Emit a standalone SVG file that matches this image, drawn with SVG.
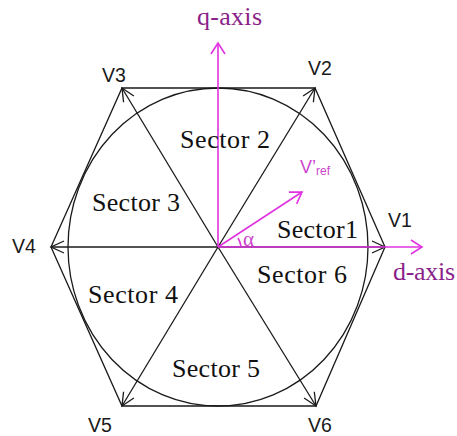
<svg xmlns="http://www.w3.org/2000/svg" width="457" height="436" viewBox="0 0 457 436">
<style>
.ln{stroke:#1a1a1a;stroke-width:1.3;fill:none}
.mg{stroke:#e033e0;stroke-width:1.6;fill:none}
.sec{font-family:"Liberation Serif","Times New Roman",serif;font-size:26px;fill:#111}
.ax{font-family:"Liberation Serif","Times New Roman",serif;font-size:26px;fill:#8a1f8a}
.vl{font-family:"Liberation Sans",Arial,sans-serif;font-size:19.5px;fill:#1a1a1a}
.vr{font-family:"Liberation Sans",Arial,sans-serif;fill:#cc44cc}
</style>
<defs>
<marker id="ah" markerUnits="userSpaceOnUse" markerWidth="30" markerHeight="30" refX="0" refY="0" viewBox="-15 -15 30 30" orient="auto" overflow="visible">
<path d="M-13,-6 L0,0 L-13,6" fill="none" stroke="#1a1a1a" stroke-width="1.3"/>
</marker>
<marker id="am" markerUnits="userSpaceOnUse" markerWidth="30" markerHeight="30" refX="0" refY="0" viewBox="-15 -15 30 30" orient="auto" overflow="visible">
<path d="M-11,-7 L0,0 L-11,7" fill="none" stroke="#e033e0" stroke-width="1.6"/>
</marker>
</defs>
<rect width="457" height="436" fill="#fff"/>
<g id="circle">
<ellipse cx="218" cy="247" rx="150" ry="159" class="ln"/>
</g>
<g id="connectors">
<path class="ln" d="M385,247 L315,88 L122,88 L51,247 L122,406 L316,406 Z"/>
<line class="ln" x1="218" y1="247" x2="315" y2="88" marker-end="url(#ah)"/>
<line class="ln" x1="218" y1="247" x2="122" y2="88" marker-end="url(#ah)"/>
<line class="ln" x1="218" y1="247" x2="51" y2="247" marker-end="url(#ah)"/>
<line class="ln" x1="218" y1="247" x2="122" y2="406" marker-end="url(#ah)"/>
<line class="ln" x1="218" y1="247" x2="316" y2="406" marker-end="url(#ah)"/>
<line class="ln" x1="218" y1="247" x2="385" y2="247" marker-end="url(#ah)"/>
<line class="mg" x1="218" y1="247" x2="218" y2="43" marker-end="url(#am)"/>
<line class="mg" x1="218" y1="247" x2="422" y2="247" marker-end="url(#am)"/>
<line class="mg" x1="218" y1="247" x2="302" y2="192" marker-end="url(#am)"/>
<path class="mg" stroke-width="1.2" d="M241,246 A 23 23 0 0 0 238,238"/>
</g>
<g id="V1"><text class="vl" x="388" y="227">V1</text></g>
<g id="V2"><text class="vl" x="308" y="75">V2</text></g>
<g id="V3"><text class="vl" x="102" y="82">V3</text></g>
<g id="V4"><text class="vl" x="12" y="253">V4</text></g>
<g id="V5"><text class="vl" x="88" y="432">V5</text></g>
<g id="V6"><text class="vl" x="308" y="432">V6</text></g>
<g id="sector1"><text class="sec" x="277" y="238" textLength="81">Sector1</text></g>
<g id="sector2"><text class="sec" x="180" y="148" textLength="90">Sector 2</text></g>
<g id="sector3"><text class="sec" x="92" y="211" textLength="88">Sector 3</text></g>
<g id="sector4"><text class="sec" x="88" y="303" textLength="90">Sector 4</text></g>
<g id="sector5"><text class="sec" x="172" y="377" textLength="88">Sector 5</text></g>
<g id="sector6"><text class="sec" x="257" y="283" textLength="90">Sector 6</text></g>
<g id="q-axis"><text class="ax" x="197" y="25" textLength="65">q-axis</text></g>
<g id="d-axis"><text class="ax" x="393" y="280" textLength="62">d-axis</text></g>
<g id="vref"><text class="vr" x="300" y="173" font-size="18">V’<tspan font-size="12" dy="2">ref</tspan></text></g>
<g id="alpha"><text x="243" y="246" font-family="Liberation Serif,serif" font-size="21" fill="#cc44cc">α</text></g>
</svg>
